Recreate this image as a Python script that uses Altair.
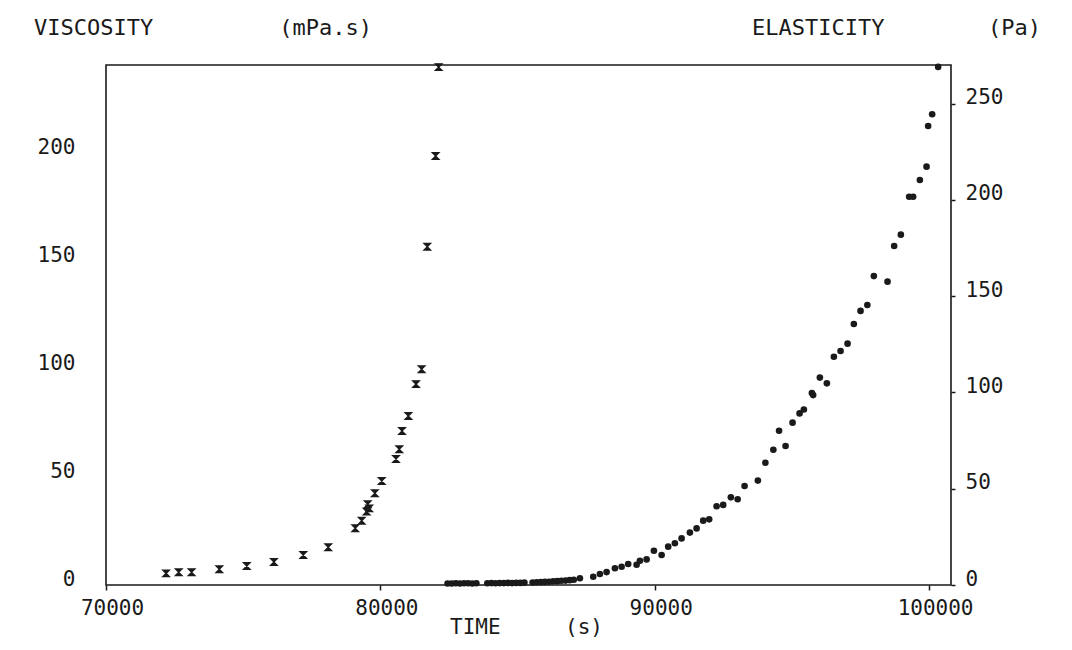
import altair as alt
import pandas as pd

# ---- data ----
visc_time = [72190, 72650, 73120, 74130, 75130, 76120, 77190, 78100, 79085, 79320,
             79500, 79595, 79540, 79800, 80050, 80570, 80690, 80790, 81020, 81300,
             81505, 81710, 82015, 82125]
visc_value = [5.4, 5.9, 5.9, 7.3, 8.8, 10.7, 13.9, 17.5, 26.3, 29.8,
              34.0, 35.5, 37.4, 42.5, 48.2, 58.4, 62.9, 71.4, 78.3, 93.1,
              100.0, 156.8, 198.8, 240.0]

elas_time = [82450, 82600, 82750, 82900, 83050, 83200, 83350, 83500,
             83900, 84050, 84200, 84350, 84500, 84650, 84800, 84950, 85100, 85250,
             85550, 85700, 85850, 86000, 86150, 86300, 86450, 86600, 86750, 86900, 87050,
             87274, 87759, 88003, 88247, 88550, 88794, 89034, 89340, 89461, 89705,
             89971, 90252, 90492, 90736, 90980, 91283, 91527, 91768, 91986, 92256,
             92497, 92776, 93024, 93275, 93760, 94034, 94325, 94533, 94770, 95025,
             95280, 95437, 95729, 95776, 96020, 96275, 96531, 96775, 97030, 97259,
             97503, 97751, 97988, 98487, 98728, 98972, 99275, 99421, 99665, 99909,
             99967, 100113, 100332]
elas_value = [0.8, 0.8, 0.9, 0.8, 0.9, 0.9, 0.8, 0.9,
              0.9, 1.0, 0.9, 1.0, 1.0, 1.1, 1.0, 1.1, 1.1, 1.2,
              1.3, 1.4, 1.5, 1.6, 1.7, 1.9, 2.0, 2.2, 2.3, 2.5, 2.7,
              3.5, 4.3, 5.7, 6.7, 8.7, 9.5, 10.9, 10.5, 12.6, 13.3,
              17.8, 15.6, 19.9, 21.7, 24.2, 27.2, 29.4, 33.4, 34.1, 40.9,
              41.6, 45.5, 44.5, 51.4, 54.2, 63.5, 70.2, 80.1, 72.2, 84.3,
              89.1, 91.1, 99.7, 98.6, 107.7, 104.7, 118.5, 121.5, 125.3, 135.5,
              142.3, 145.4, 160.4, 157.5, 176.0, 181.9, 201.6, 201.6, 210.3, 217.2,
              238.3, 244.4, 269.0]

x_ticks = [70000, 80000, 90000, 100000]
visc_ticks = [0, 50, 100, 150, 200]
elas_ticks = [0, 50, 100, 150, 200, 250]

visc_df = pd.DataFrame({"time": visc_time, "viscosity": visc_value})
elas_df = pd.DataFrame({"time": elas_time, "elasticity": elas_value})

FONT = "DejaVu Sans Mono"
INK = "#1a1a1a"
W, H = 845, 520

x_enc = alt.X("time:Q",
              scale=alt.Scale(domain=[70000, 100800], nice=False, zero=False),
              axis=alt.Axis(values=x_ticks, format="d", title=None, grid=False,
                            domain=False, ticks=True, tickSize=5, tickColor=INK,
                            tickWidth=1.5, labelPadding=7, labelOffset=6,
                            labelFont=FONT, labelFontSize=21, labelColor=INK,
                            labelBaseline="top", labelFlush=False))

hourglass = "M-1,-1L1,-1L-1,1L1,1Z"

visc = alt.Chart(visc_df).mark_point(
    shape=hourglass, filled=True, size=44, color=INK, opacity=1,
    stroke=INK, strokeWidth=1.3
).encode(
    x=x_enc,
    y=alt.Y("viscosity:Q",
            scale=alt.Scale(domain=[0, 241], nice=False),
            axis=alt.Axis(orient="left", values=visc_ticks, title=None, grid=False,
                          domain=False, ticks=False, labelPadding=31, labelOffset=-6,
                          labelFont=FONT, labelFontSize=21, labelColor=INK))
)

elas = alt.Chart(elas_df).mark_circle(size=44, color=INK, opacity=1).encode(
    x=alt.X("time:Q", scale=alt.Scale(domain=[70000, 100800], nice=False, zero=False)),
    y=alt.Y("elasticity:Q",
            scale=alt.Scale(domain=[0, 270], nice=False),
            axis=alt.Axis(orient="right", values=elas_ticks, title=None, grid=False,
                          domain=False, ticks=True, tickSize=4, tickColor=INK,
                          tickWidth=1.5, labelPadding=10, labelOffset=-6,
                          labelFont=FONT, labelFontSize=21, labelColor=INK,
                          labelAlign="left"))
)


def label(txt, x, y, align, size=22):
    return alt.Chart(pd.DataFrame({"t": [txt]})).mark_text(
        font=FONT, fontSize=size, color=INK, align=align, baseline="alphabetic"
    ).encode(text="t:N", x=alt.value(x), y=alt.value(y))


titles = (label("VISCOSITY", -72, -30, "left") + label("(mPa.s)", 266, -30, "right")
          + label("ELASTICITY", 646, -30, "left") + label("(Pa)", 935, -30, "right")
          + label("TIME", 344, 569, "left", 21) + label("(s)", 497, 569, "right", 21))

chart = alt.layer(visc, elas, titles).resolve_scale(y="independent").properties(
    width=W, height=H,
    autosize=alt.AutoSizeParams(type="none"),
    padding={"left": 98, "top": 57, "right": 110, "bottom": 55},
    background="white",
).configure_view(stroke=INK, strokeWidth=1.6)

chart.save("out.html", embed_options={"renderer": "svg", "actions": False})
